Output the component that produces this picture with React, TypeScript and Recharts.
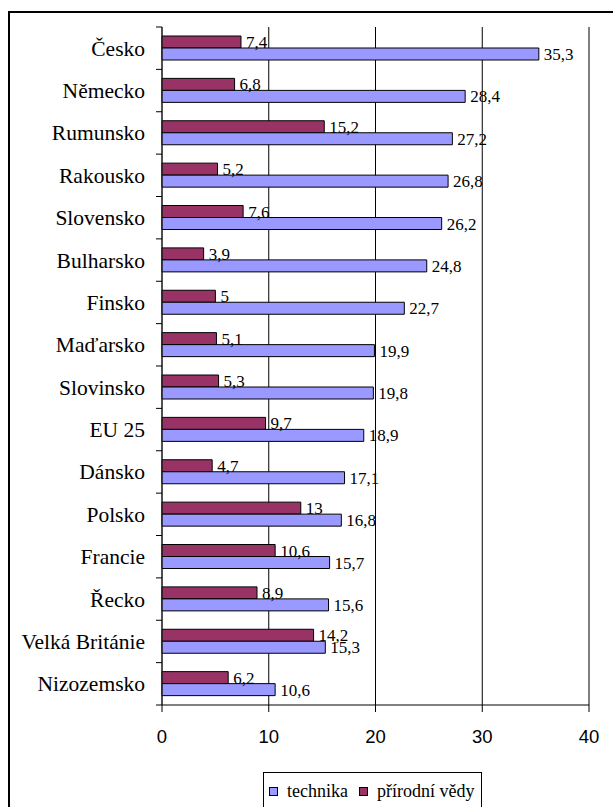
import React from "react";
import { BarChart, Bar, XAxis, YAxis, CartesianGrid, LabelList } from "recharts";

const categories = [
  "Česko", "Německo", "Rumunsko", "Rakousko", "Slovensko", "Bulharsko", "Finsko", "Maďarsko",
  "Slovinsko", "EU 25", "Dánsko", "Polsko", "Francie", "Řecko", "Velká Británie", "Nizozemsko",
];
const technika = [35.3, 28.4, 27.2, 26.8, 26.2, 24.8, 22.7, 19.9, 19.8, 18.9, 17.1, 16.8, 15.7, 15.6, 15.3, 10.6];
const prirodniVedy = [7.4, 6.8, 15.2, 5.2, 7.6, 3.9, 5, 5.1, 5.3, 9.7, 4.7, 13, 10.6, 8.9, 14.2, 6.2];
const xTicks = [0, 10, 20, 30, 40];
const seriesNames = { technika: "technika", prirodni: "přírodní vědy" };
const colors = { technika: "#9999FF", prirodni: "#993366" };

const data = categories.map((name, i) => ({ name, technika: technika[i], prirodni: prirodniVedy[i] }));

const labelFont = "Liberation Serif, Liberation Sans, Arial, sans-serif";
const sans = "Liberation Sans, Arial, sans-serif";

const fmt = (v: any) => String(v).replace(".", ",");

const CatTick = (props: any) => {
  const { x, y, payload, index } = props;
  const half = payload && typeof payload.offset === "number" && payload.offset > 0 ? payload.offset : 21.2;
  const ax = x + 17;
  const last = index === categories.length - 1;
  return (
    <g>
      <line x1={ax - 6} x2={ax} y1={y - half} y2={y - half} stroke="#000" strokeWidth={1} />
      {last && <line x1={ax - 6} x2={ax} y1={y + half} y2={y + half} stroke="#000" strokeWidth={1} />}
      <text x={x} y={y} dy={7.5} textAnchor="end" style={{ fontFamily: labelFont, fontSize: 21.5 }} fill="#000">
        {payload.value}
      </text>
    </g>
  );
};

const ValueLabel = (props: any) => {
  const { x, y, width, height, value } = props;
  return (
    <text x={x + width + 5} y={y + height / 2} dy={6} textAnchor="start" style={{ fontFamily: labelFont, fontSize: 17 }} fill="#000">
      {fmt(value)}
    </text>
  );
};

const LegendBox = () => (
  <div
    style={{
      position: "absolute",
      left: 263,
      top: 772,
      width: 219,
      height: 45,
      border: "1px solid #000",
      background: "#fff",
      boxSizing: "border-box",
      fontFamily: labelFont,
      fontSize: 18,
      color: "#000",
    }}
  >
    {[
      { key: "technika", left: 5 },
      { key: "prirodni", left: 95 },
    ].map((it) => (
      <div key={it.key} style={{ position: "absolute", left: it.left, top: 8, display: "flex", alignItems: "center", whiteSpace: "nowrap" }}>
        <span
          style={{
            display: "inline-block",
            width: 7,
            height: 7,
            border: "1px solid #000",
            background: (colors as any)[it.key],
            marginRight: 9,
          }}
        />
        <span>{(seriesNames as any)[it.key]}</span>
      </div>
    ))}
  </div>
);

export default function App() {
  return (
    <div style={{ position: "absolute", left: 0, top: 0, width: 613, height: 807, overflow: "hidden", background: "#fff" }}>
      <div
        style={{
          position: "absolute",
          left: 8,
          top: 11,
          width: 700,
          height: 900,
          borderLeft: "2px solid #000",
          borderTop: "2px solid #000",
        }}
      />
      <div style={{ position: "absolute", left: 0, top: 0 }}>
        <BarChart
          width={613}
          height={807}
          data={data}
          layout="vertical"
          margin={{ top: 27, right: 24, bottom: 0, left: 0 }}
          barSize={12}
          barGap={0}
        >
          <CartesianGrid horizontal={false} vertical={true} stroke="#000" />
          <XAxis
            type="number"
            domain={[0, 40]}
            ticks={xTicks}
            interval={0}
            height={102}
            tickSize={7}
            tickMargin={18}
            axisLine={{ stroke: "#000" }}
            tickLine={{ stroke: "#000" }}
            tick={{ fontFamily: sans, fontSize: 18.5, fill: "#000" }}
          />
          <XAxis
            xAxisId="top"
            orientation="top"
            type="number"
            domain={[0, 40]}
            height={0}
            tick={false}
            tickLine={false}
            axisLine={{ stroke: "#808080" }}
          />
          <YAxis
            type="category"
            dataKey="name"
            width={162}
            interval={0}
            tickLine={false}
            tickMargin={11}
            axisLine={{ stroke: "#222" }}
            tick={<CatTick />}
          />
          <YAxis
            yAxisId="right"
            orientation="right"
            type="category"
            dataKey="name"
            width={0}
            tick={false}
            tickLine={false}
            axisLine={{ stroke: "#808080" }}
          />
          <Bar dataKey="prirodni" name={seriesNames.prirodni} fill={colors.prirodni} stroke="#000" strokeWidth={1} isAnimationActive={false}>
            <LabelList dataKey="prirodni" content={<ValueLabel />} />
          </Bar>
          <Bar dataKey="technika" name={seriesNames.technika} fill={colors.technika} stroke="#000" strokeWidth={1} isAnimationActive={false}>
            <LabelList dataKey="technika" content={<ValueLabel />} />
          </Bar>
        </BarChart>
      </div>
      <LegendBox />
    </div>
  );
}
